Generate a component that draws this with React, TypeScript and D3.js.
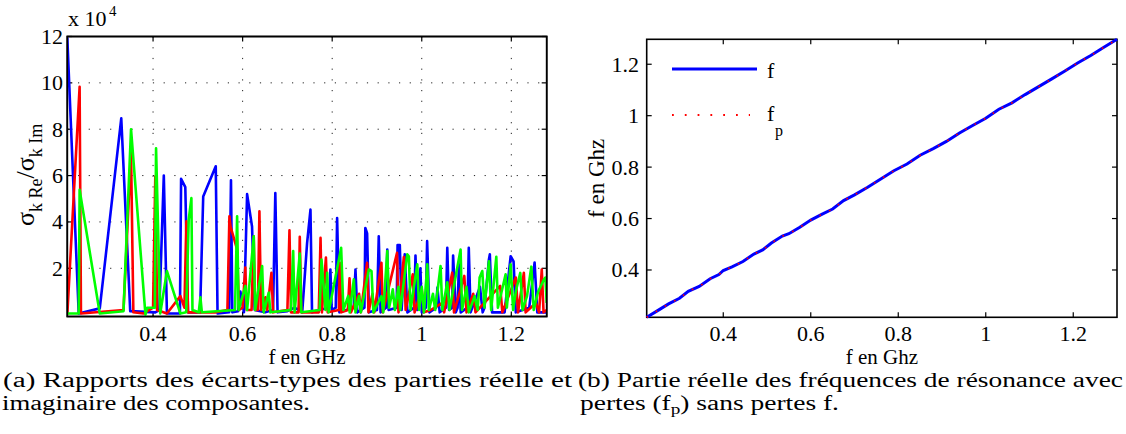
import React from 'react';
import * as d3 from 'd3';

// ---------- Chart (a): ratio of standard deviations (x 10^4) ----------
const blueF = [0.2085, 0.234, 0.281, 0.329, 0.349, 0.405, 0.414, 0.424, 0.431, 0.46, 0.4626, 0.472, 0.478, 0.505, 0.512, 0.540, 0.544, 0.570, 0.574, 0.577, 0.590, 0.595, 0.603, 0.610, 0.621, 0.627, 0.650, 0.668, 0.673, 0.678, 0.700, 0.716, 0.725, 0.729, 0.733, 0.744, 0.7515, 0.755, 0.770, 0.793, 0.796, 0.799, 0.808, 0.811, 0.816, 0.848, 0.852, 0.856, 0.872, 0.874, 0.878, 0.882, 0.900, 0.904, 0.908, 0.920, 0.923, 0.926, 0.944, 0.946, 0.951, 0.955, 0.962, 0.968, 0.983, 0.986, 0.990, 0.997, 1.000, 1.009, 1.012, 1.017, 1.032, 1.035, 1.040, 1.054, 1.057, 1.061, 1.068, 1.070, 1.076, 1.080, 1.083, 1.087, 1.102, 1.105, 1.109, 1.130, 1.136, 1.140, 1.150, 1.152, 1.157, 1.185, 1.1985, 1.205, 1.210, 1.240, 1.252, 1.258, 1.279];
const blueV = [11.95, 0.05, 0.27, 8.47, 0.15, 0.1, 0.2, 6.0, 0.05, 0.05, 5.86, 5.5, 0.1, 0.1, 5.1, 6.4, 0.05, 0.1, 5.8, 0.1, 0.15, 1.0, 0.1, 5.2, 3.8, 0.2, 0.1, 0.2, 5.25, 0.1, 0.15, 0.3, 0.2, 0.8, 0.1, 3.1, 4.53, 0.1, 0.2, 0.3, 1.95, 0.2, 0.3, 4.17, 0.1, 0.3, 1.95, 0.1, 0.3, 3.74, 3.5, 0.1, 0.2, 3.38, 0.1, 0.3, 2.81, 0.2, 0.3, 3.0, 3.0, 0.2, 2.6, 0.1, 0.3, 2.55, 0.2, 2.0, 0.1, 0.3, 3.17, 0.1, 0.3, 1.17, 0.1, 0.3, 2.88, 0.2, 0.3, 2.55, 0.1, 0.3, 2.17, 0.1, 0.3, 2.88, 0.1, 1.2, 0.1, 0.3, 2.38, 2.6, 0.1, 0.1, 2.52, 2.3, 0.1, 0.3, 2.25, 0.1, 0.1];

const redF = [0.2085, 0.236, 0.239, 0.334, 0.3508, 0.356, 0.379, 0.400, 0.405, 0.409, 0.431, 0.461, 0.470, 0.4744, 0.478, 0.500, 0.540, 0.566, 0.5705, 0.573, 0.5877, 0.592, 0.600, 0.606, 0.609, 0.620, 0.6248, 0.628, 0.634, 0.6375, 0.641, 0.651, 0.655, 0.6644, 0.668, 0.700, 0.7046, 0.708, 0.725, 0.7276, 0.731, 0.770, 0.774, 0.777, 0.786, 0.790, 0.815, 0.817, 0.820, 0.835, 0.8387, 0.842, 0.860, 0.864, 0.878, 0.881, 0.890, 0.894, 0.910, 0.913, 0.9448, 0.948, 0.960, 0.964, 0.980, 0.984, 1.000, 1.005, 1.020, 1.045, 1.050, 1.068, 1.072, 1.095, 1.100, 1.115, 1.120, 1.175, 1.180, 1.210, 1.215, 1.228, 1.232, 1.255, 1.262, 1.268, 1.272, 1.279];
const redV = [0.0, 9.83, 0.05, 0.2, 7.0, 0.1, 0.05, 0.3, 5.96, 0.2, 0.05, 0.8, 0.3, 4.03, 0.1, 0.1, 0.1, 0.2, 4.24, 3.8, 2.81, 0.2, 0.3, 2.03, 0.2, 0.2, 3.38, 0.2, 0.2, 4.46, 0.2, 0.75, 0.2, 1.81, 0.1, 0.2, 3.64, 0.1, 0.1, 3.36, 0.1, 0.1, 3.31, 0.1, 2.46, 0.1, 0.2, 2.24, 0.1, 0.2, 1.57, 0.1, 0.9, 0.1, 2.24, 0.1, 0.9, 0.1, 2.24, 0.1, 2.67, 0.1, 2.48, 0.2, 1.74, 0.1, 1.1, 0.1, 0.2, 0.5, 0.1, 1.81, 0.1, 1.67, 0.1, 0.9, 0.1, 1.24, 0.1, 1.6, 0.1, 1.81, 0.1, 0.5, 0.1, 1.95, 0.1, 0.2];

const greenF = [0.2085, 0.234, 0.236, 0.281, 0.334, 0.3508, 0.383, 0.387, 0.404, 0.4067, 0.416, 0.431, 0.461, 0.474, 0.4796, 0.4856, 0.488, 0.502, 0.5057, 0.509, 0.583, 0.5877, 0.591, 0.6063, 0.610, 0.6248, 0.628, 0.6436, 0.647, 0.6583, 0.662, 0.708, 0.7129, 0.716, 0.7276, 0.731, 0.772, 0.7761, 0.785, 0.7888, 0.792, 0.820, 0.825, 0.8358, 0.839, 0.8483, 0.852, 0.860, 0.864, 0.8818, 0.8878, 0.892, 0.910, 0.914, 0.923, 0.927, 0.9354, 0.940, 0.948, 0.952, 0.9676, 0.9712, 0.975, 0.990, 0.994, 1.000, 1.005, 1.0123, 1.016, 1.025, 1.030, 1.042, 1.046, 1.057, 1.062, 1.0867, 1.090, 1.100, 1.105, 1.118, 1.125, 1.1292, 1.1352, 1.140, 1.150, 1.155, 1.1665, 1.170, 1.1873, 1.190, 1.1985, 1.204, 1.210, 1.220, 1.225, 1.235, 1.2447, 1.250, 1.260, 1.2729, 1.276, 1.279];
const greenV = [0.05, 0.05, 5.39, 0.05, 0.15, 8.0, 0.0, 0.3, 0.3, 7.18, 0.05, 1.88, 0.05, 0.1, 4.1, 5.03, 0.2, 0.1, 0.75, 0.1, 0.2, 4.24, 0.2, 1.24, 0.2, 3.38, 0.2, 2.1, 0.1, 0.95, 0.1, 0.2, 2.74, 0.1, 2.64, 0.1, 0.2, 2.38, 0.2, 1.81, 0.1, 2.88, 0.2, 0.81, 0.1, 1.52, 0.1, 0.8, 0.1, 1.95, 1.88, 0.1, 0.8, 0.1, 2.74, 0.3, 1.09, 0.2, 1.2, 0.2, 2.6, 2.52, 0.2, 2.17, 0.2, 1.2, 0.1, 2.17, 0.2, 0.9, 0.2, 2.1, 0.2, 1.4, 0.2, 2.81, 0.2, 1.2, 0.1, 0.8, 0.2, 1.6, 1.88, 0.3, 2.3, 0.2, 2.5, 0.3, 1.74, 0.3, 2.17, 0.2, 1.0, 1.8, 0.2, 0.8, 2.07, 0.2, 1.0, 1.52, 1.6, 0.5];

const xTicksA = [0.4, 0.6, 0.8, 1, 1.2];
const yTicksA = [2, 4, 6, 8, 10, 12];

// ---------- Chart (b): resonance frequencies with / without losses ----------
const fAxis = [0.225, 0.25, 0.275, 0.30, 0.32, 0.345, 0.37, 0.39, 0.40, 0.42, 0.445, 0.47, 0.49, 0.51, 0.535, 0.55, 0.575, 0.60, 0.625, 0.65, 0.675, 0.70, 0.73, 0.76, 0.79, 0.82, 0.85, 0.88, 0.91, 0.94, 0.97, 1.00, 1.03, 1.06, 1.09, 1.12, 1.15, 1.18, 1.21, 1.24, 1.27, 1.30];
const fValues = [0.216, 0.242, 0.268, 0.29, 0.317, 0.336, 0.366, 0.382, 0.398, 0.412, 0.433, 0.462, 0.478, 0.505, 0.532, 0.541, 0.566, 0.594, 0.616, 0.637, 0.67, 0.692, 0.722, 0.754, 0.786, 0.812, 0.846, 0.872, 0.90, 0.933, 0.962, 0.99, 1.025, 1.05, 1.082, 1.112, 1.142, 1.173, 1.205, 1.234, 1.266, 1.297];
const fpValues = [0.216, 0.242, 0.268, 0.29, 0.317, 0.336, 0.366, 0.382, 0.398, 0.412, 0.433, 0.462, 0.478, 0.505, 0.532, 0.541, 0.566, 0.594, 0.616, 0.637, 0.67, 0.692, 0.722, 0.754, 0.786, 0.812, 0.846, 0.872, 0.90, 0.933, 0.962, 0.99, 1.025, 1.05, 1.082, 1.112, 1.142, 1.173, 1.205, 1.234, 1.266, 1.297];
const xTicksB = [0.4, 0.6, 0.8, 1, 1.2];
const yTicksB = [0.4, 0.6, 0.8, 1, 1.2];

const FONT = "'Liberation Serif', 'DejaVu Serif', serif";
const TICK_FS = 22;

function zip(xs: number[], ys: number[]): [number, number][] {
  return xs.map((x, i) => [x, ys[i]]);
}

function Frame({ x0, x1, y0, y1, xs, ys, xScale, yScale, grid }: any) {
  const tl = 5;
  return (
    <g>
      {grid && xs.map((t: number) => (
        <line key={'gx' + t} x1={xScale(t)} x2={xScale(t)} y1={y0} y2={y1} stroke="#222" strokeWidth={1} strokeDasharray="1.2,9.5" />
      ))}
      {grid && ys.map((t: number) => (
        <line key={'gy' + t} x1={x0} x2={x1} y1={yScale(t)} y2={yScale(t)} stroke="#222" strokeWidth={1} strokeDasharray="1.2,9.5" />
      ))}
      {xs.map((t: number) => (
        <g key={'tx' + t}>
          <line x1={xScale(t)} x2={xScale(t)} y1={y1} y2={y1 - tl} stroke="#000" strokeWidth={1.2} />
          <line x1={xScale(t)} x2={xScale(t)} y1={y0} y2={y0 + tl} stroke="#000" strokeWidth={1.2} />
        </g>
      ))}
      {ys.map((t: number) => (
        <g key={'ty' + t}>
          <line x1={x0} x2={x0 + tl} y1={yScale(t)} y2={yScale(t)} stroke="#000" strokeWidth={1.2} />
          <line x1={x1} x2={x1 - tl} y1={yScale(t)} y2={yScale(t)} stroke="#000" strokeWidth={1.2} />
        </g>
      ))}
      <rect x={x0} y={y0} width={x1 - x0} height={y1 - y0} fill="none" stroke="#000" strokeWidth={1.6} />
    </g>
  );
}

export default function App() {
  // chart (a)
  const A = { x0: 67.3, x1: 546.7, y0: 36.5, y1: 316.5 };
  const xA = d3.scaleLinear().domain([0.2085, 1.279]).range([A.x0, A.x1]);
  const yA = d3.scaleLinear().domain([-0.08, 12]).range([A.y1, A.y0]);
  const lineA = d3.line<[number, number]>().x(d => xA(d[0])).y(d => yA(d[1]));

  // chart (b)
  const B = { x0: 646.7, x1: 1117, y0: 39.3, y1: 317.3 };
  const xB = d3.scaleLinear().domain([0.225, 1.30]).range([B.x0, B.x1]);
  const yB = d3.scaleLinear().domain([0.216, 1.297]).range([B.y1, B.y0]);
  const lineB = d3.line<[number, number]>().x(d => xB(d[0])).y(d => yB(d[1]));

  const series = [
    { f: blueF, v: blueV, c: '#0000ff' },
    { f: redF, v: redV, c: '#ff0000' },
    { f: greenF, v: greenV, c: '#00ff00' },
  ];

  const fmt = (d: number) => String(d);
  const ts = { fontFamily: FONT };

  return (
    <svg width={1126} height={434} style={{ position: 'absolute', left: 0, top: 0, background: '#fff', fontFamily: FONT }}>
      <rect x={0} y={0} width={1126} height={434} fill="#fff" />
      <defs>
        <clipPath id="clipA"><rect x={A.x0} y={A.y0} width={A.x1 - A.x0} height={A.y1 - A.y0} /></clipPath>
        <clipPath id="clipB"><rect x={B.x0 - 2} y={B.y0 - 2} width={B.x1 - B.x0 + 4} height={B.y1 - B.y0 + 4} /></clipPath>
      </defs>

      {/* ---------- chart (a) ---------- */}
      <Frame {...A} xs={xTicksA} ys={yTicksA} xScale={xA} yScale={yA} grid={true} />
      <g clipPath="url(#clipA)">
        {series.map((s, i) => (
          <path key={i} d={lineA(zip(s.f, s.v)) || ''} fill="none" stroke={s.c} strokeWidth={2.6} strokeLinejoin="round" />
        ))}
      </g>
      <rect x={A.x0} y={A.y0} width={A.x1 - A.x0} height={A.y1 - A.y0} fill="none" stroke="#000" strokeWidth={1.6} />
      {yTicksA.map(t => (
        <text key={t} style={ts} x={63} y={yA(t) + 7.5} fontSize={TICK_FS} textAnchor="end">{fmt(t)}</text>
      ))}
      {xTicksA.map(t => (
        <text key={t} style={ts} x={xA(t)} y={341} fontSize={TICK_FS} textAnchor="middle">{fmt(t)}</text>
      ))}
      <text style={ts} x={68} y={26} fontSize={TICK_FS}>x 10</text>
      <text style={ts} x={109} y={16} fontSize={15}>4</text>
      <text style={ts} x={(A.x0 + A.x1) / 2} y={364} fontSize={21} textAnchor="middle">f en GHz</text>
      <text style={ts} transform="translate(34,226) rotate(-90)" fontSize={26}>
        <tspan>σ</tspan>
        <tspan fontSize={18} dy={8}>k Re</tspan>
        <tspan dy={-8}>/σ</tspan>
        <tspan fontSize={18} dy={8}>k Im</tspan>
      </text>

      {/* ---------- chart (b) ---------- */}
      <Frame {...B} xs={xTicksB} ys={yTicksB} xScale={xB} yScale={yB} grid={false} />
      <g clipPath="url(#clipB)">
        <path d={lineB(zip(fAxis, fValues)) || ''} fill="none" stroke="#0000ff" strokeWidth={3} />
        <path d={lineB(zip(fAxis, fpValues)) || ''} fill="none" stroke="#ff0000" strokeWidth={1.6} strokeDasharray="1.6,9" />
      </g>
      {yTicksB.map(t => (
        <text key={t} style={ts} x={639} y={yB(t) + 7.5} fontSize={TICK_FS} textAnchor="end">{fmt(t)}</text>
      ))}
      {xTicksB.map(t => (
        <text key={t} style={ts} x={xB(t)} y={341} fontSize={TICK_FS} textAnchor="middle">{fmt(t)}</text>
      ))}
      <text style={ts} x={(B.x0 + B.x1) / 2} y={364} fontSize={21} textAnchor="middle">f en Ghz</text>
      <text style={ts} transform={`translate(604,${(B.y0 + B.y1) / 2}) rotate(-90)`} fontSize={23} textAnchor="middle">f en Ghz</text>

      {/* legend */}
      <line x1={672} x2={757} y1={69} y2={69} stroke="#0000ff" strokeWidth={3} />
      <text style={ts} x={767} y={78} fontSize={TICK_FS}>f</text>
      <line x1={672} x2={750} y1={115} y2={115} stroke="#ff0000" strokeWidth={1.8} strokeDasharray="1.8,11" />
      <text style={ts} x={767} y={121} fontSize={TICK_FS}>f</text>
      <text style={ts} x={775} y={136} fontSize={16}>p</text>

      {/* captions */}
      <text style={ts} x={3} y={386.5} fontSize={20} textLength={569} lengthAdjust="spacingAndGlyphs">(a) Rapports des écarts-types des parties réelle et</text>
      <text style={ts} x={2} y={410} fontSize={20} textLength={308} lengthAdjust="spacingAndGlyphs">imaginaire des composantes.</text>
      <text style={ts} x={578} y={386.5} fontSize={20} textLength={545} lengthAdjust="spacingAndGlyphs">(b) Partie réelle des fréquences de résonance avec</text>
      <text style={ts} x={580} y={410} fontSize={20} textLength={259} lengthAdjust="spacingAndGlyphs">
        <tspan>pertes (f</tspan>
        <tspan fontSize={14} dy={4}>p</tspan>
        <tspan dy={-4}>) sans pertes f.</tspan>
      </text>
    </svg>
  );
}
